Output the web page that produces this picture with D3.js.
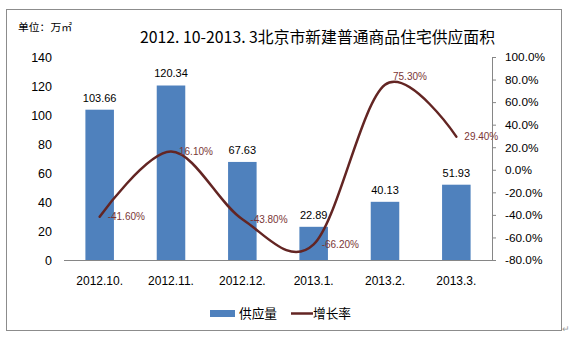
<!DOCTYPE html>
<html>
<head>
<meta charset="utf-8">
<script src="https://cdn.jsdelivr.net/npm/d3@7"></script>
<style>
  html, body { margin: 0; padding: 0; background: #fff; }
  svg { display: block; }
</style>
</head>
<body>
<svg id="chart" width="569" height="338"></svg>
<script>
// Monthly supply of new ordinary commercial housing in Beijing
const months = ["2012.10.", "2012.11.", "2012.12.", "2013.1.", "2013.2.", "2013.3."];
const supply = [103.66, 120.34, 67.63, 22.89, 40.13, 51.93];      // 万㎡
const growth = [-41.6, 16.1, -43.8, -66.2, 75.3, 29.4];           // %
const leftTicks = [0, 20, 40, 60, 80, 100, 120, 140];
const rightTicks = [-80, -60, -40, -20, 0, 20, 40, 60, 80, 100];
const titleText = "2012. 10-2013. 3北京市新建普通商品住宅供应面积";
const unitText = "单位：万㎡";
const legendNames = ["供应量", "增长率"];

const W = 569, H = 338;
const plot = { left: 64, right: 492, top: 57, bottom: 260 };
const barColor = "#4f81bd";
const lineColor = "#632523";
const lineLabelColor = "#7a3636";
const axisColor = "#868686";
const textFont = "'Liberation Sans', Arial, sans-serif";
const cjkFont = "'Noto Sans CJK SC', sans-serif";

// plain hyphen for negatives
const fmt = d3.formatLocale({ decimal: ".", thousands: ",", grouping: [3], currency: ["", ""], minus: "-" });
const f1 = fmt.format(".1f"), f2 = fmt.format(".2f");

const svg = d3.select("#chart");

// outer frame
svg.append("rect")
  .attr("x", 6.5).attr("y", 9.5)
  .attr("width", 555).attr("height", 321)
  .attr("fill", "#fff").attr("stroke", "#8c8c8c").attr("stroke-width", 1);

svg.append("text")
  .attr("x", 566).attr("y", 332)
  .attr("text-anchor", "middle")
  .attr("font-family", cjkFont).attr("font-size", 9)
  .attr("fill", "#999")
  .text("↵");

const x = d3.scaleBand()
  .domain(months)
  .range([plot.left, plot.right])
  .paddingInner(0.6)
  .paddingOuter(0.3);

const yL = d3.scaleLinear().domain([0, 140]).range([plot.bottom, plot.top]);
const yR = d3.scaleLinear().domain([-80, 100]).range([plot.bottom, plot.top]);

// title and unit
svg.append("text")
  .attr("x", 140).attr("y", 43)
  .attr("font-family", cjkFont).attr("font-size", 15.5)
  .attr("fill", "#000")
  .attr("textLength", 355).attr("lengthAdjust", "spacingAndGlyphs")
  .text(titleText);

svg.append("text")
  .attr("x", 18).attr("y", 30.5)
  .attr("font-family", cjkFont).attr("font-size", 10.5)
  .attr("fill", "#000")
  .attr("textLength", 54).attr("lengthAdjust", "spacingAndGlyphs")
  .text(unitText);

// left axis: labels only
const leftAxis = svg.append("g")
  .attr("transform", `translate(${plot.left},0)`)
  .call(d3.axisLeft(yL).tickValues(leftTicks).tickSize(0).tickPadding(12));
leftAxis.select(".domain").remove();
leftAxis.selectAll("text")
  .attr("font-family", textFont).attr("font-size", 12.5).attr("fill", "#000");

// right axis with line and ticks
const rightAxis = svg.append("g")
  .attr("transform", `translate(${plot.right},0)`)
  .call(d3.axisRight(yR).tickValues(rightTicks).tickSize(4).tickSizeOuter(0).tickPadding(9)
    .tickFormat(d => f1(d) + "%"));
rightAxis.select(".domain").attr("stroke", axisColor);
rightAxis.selectAll(".tick line").attr("stroke", axisColor);
rightAxis.selectAll("text")
  .attr("font-family", textFont).attr("font-size", 11.8).attr("fill", "#000");

// bottom axis
const bottomAxis = svg.append("g")
  .attr("transform", `translate(0,${plot.bottom})`)
  .call(d3.axisBottom(x).tickSize(0).tickPadding(16));
bottomAxis.select(".domain").attr("stroke", axisColor).attr("d", `M${plot.left},0.5H${plot.right}`);
bottomAxis.selectAll("text")
  .attr("font-family", textFont).attr("font-size", 12).attr("fill", "#000");

// bars
svg.append("g").selectAll("rect")
  .data(supply)
  .join("rect")
  .attr("x", (d, i) => x(months[i]))
  .attr("y", d => yL(d))
  .attr("width", x.bandwidth())
  .attr("height", d => yL(0) - yL(d))
  .attr("fill", barColor);

svg.append("g").selectAll("text")
  .data(supply)
  .join("text")
  .attr("x", (d, i) => x(months[i]) + x.bandwidth() / 2)
  .attr("y", d => yL(d) - 12)
  .attr("dy", "0.35em")
  .attr("text-anchor", "middle")
  .attr("font-family", textFont).attr("font-size", 11)
  .attr("fill", "#000")
  .text(d => f2(d));

// smoothed growth line
const cx = (d, i) => x(months[i]) + x.bandwidth() / 2;
const line = d3.line()
  .x(cx)
  .y(d => yR(d))
  .curve(d3.curveCatmullRom.alpha(0));

svg.append("path")
  .datum(growth)
  .attr("d", line)
  .attr("fill", "none")
  .attr("stroke", lineColor)
  .attr("stroke-width", 2.5)
  .attr("stroke-linecap", "round");

// the peak label sits a little higher so it clears the curve
const labelLift = { 4: -8 };
svg.append("g").selectAll("text")
  .data(growth)
  .join("text")
  .attr("x", (d, i) => cx(d, i) + 8)
  .attr("y", (d, i) => yR(d) + (labelLift[i] || 0))
  .attr("dy", "0.35em")
  .attr("font-family", textFont).attr("font-size", 10)
  .attr("fill", lineLabelColor)
  .text(d => f2(d) + "%");

// legend
const lg = svg.append("g");
lg.append("rect")
  .attr("x", 210).attr("y", 310)
  .attr("width", 25).attr("height", 7)
  .attr("fill", barColor);
lg.append("text")
  .attr("x", 239).attr("y", 313.5)
  .attr("dy", "0.35em")
  .attr("font-family", cjkFont).attr("font-size", 12.7)
  .attr("fill", "#000")
  .text(legendNames[0]);
lg.append("line")
  .attr("x1", 291).attr("x2", 313)
  .attr("y1", 313.5).attr("y2", 313.5)
  .attr("stroke", lineColor).attr("stroke-width", 2.5);
lg.append("text")
  .attr("x", 313).attr("y", 313.5)
  .attr("dy", "0.35em")
  .attr("font-family", cjkFont).attr("font-size", 12.7)
  .attr("fill", "#000")
  .text(legendNames[1]);
</script>
</body>
</html>
